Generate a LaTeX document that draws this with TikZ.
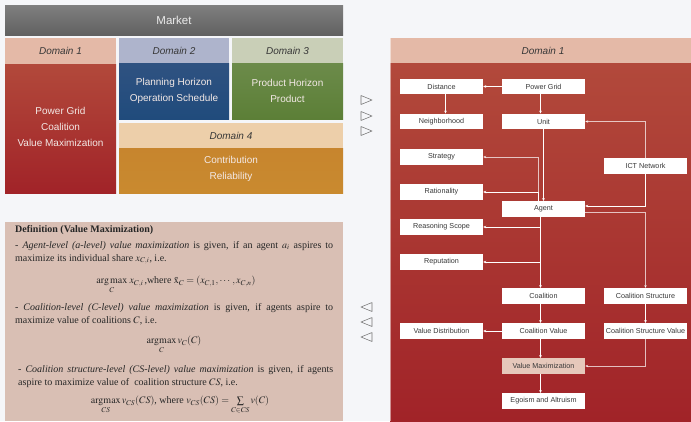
\documentclass[tikz,border=0pt]{standalone}
\usepackage{amsmath}
\usepackage{mathptmx}
\usepackage{fontspec}
\setmainfont{Liberation Serif}
\setsansfont{Liberation Sans}
\usetikzlibrary{arrows.meta}
\definecolor{bgc}{HTML}{F5F6F9}
\definecolor{hdone}{HTML}{E4B9A7}
\definecolor{hdtwo}{HTML}{AEB4CC}
\definecolor{hdthree}{HTML}{C9CFB7}
\definecolor{hdfour}{HTML}{EDCFAA}
\definecolor{redtop}{HTML}{B2493B}
\definecolor{redbot}{HTML}{A12328}
\definecolor{bluetop}{HTML}{2F5281}
\definecolor{bluebot}{HTML}{204B7C}
\definecolor{greentop}{HTML}{6C8B4A}
\definecolor{greenbot}{HTML}{5C7F37}
\definecolor{orangetop}{HTML}{C7852E}
\definecolor{orangebot}{HTML}{C98A2F}
\definecolor{deffill}{HTML}{D9BFB4}
\definecolor{vmfill}{HTML}{E6C8BB}
\definecolor{lighttxt}{HTML}{F3E9E6}
\tikzset{
  hdr/.style={font=\sffamily\itshape\fontsize{10}{12}\selectfont, text=black!78},
  bodytxt/.style={font=\sffamily\fontsize{10}{16}\selectfont, text=lighttxt, align=center},
  box/.style={fill=white, minimum width=83pt, minimum height=15.5pt, inner sep=0pt,
    font=\sffamily\fontsize{7.2}{8}\selectfont, text=black!78},
  arr/.style={draw=white, line width=0.6pt, -{Stealth[length=3pt,width=2.6pt]}},
  arrp/.style={draw=white, draw opacity=0.7, line width=0.6pt, -{Stealth[length=3pt,width=2.6pt]}},
  tri/.style={draw=black!55, line width=0.55pt, line join=round},
  deftxt/.style={font=\fontsize{10}{13}\selectfont, text=black!85, inner sep=0pt},
  para/.style={deftxt, anchor=north west, text width=318pt, align=justify}
}
\begin{document}
\begin{tikzpicture}[x=1pt,y=-1pt]
\useasboundingbox (0,0) rectangle (691,421);
\fill[bgc] (0,0) rectangle (691,421);

% Market
\shade[top color=black!50, bottom color=black!62] (5,5) rectangle (343,35);
\node[font=\sffamily\fontsize{11.5}{13}\selectfont, text=white!92!black] (market) at (174,20) {Market};

% Domain 1
\fill[hdone] (5,38) rectangle (116,64);
\shade[top color=redtop, bottom color=redbot] (5,64) rectangle (116,193);
\node[hdr] (d1h) at (60.5,51) {Domain 1};
\node[bodytxt] (d1b) at (60.5,127) {Power Grid\\Coalition\\Value Maximization};

% Domain 2
\fill[hdtwo] (119,38) rectangle (229,63);
\shade[top color=bluetop, bottom color=bluebot] (119,63) rectangle (229,119);
\node[hdr] (d2h) at (174,51) {Domain 2};
\node[bodytxt] (d2b) at (174,90.5) {Planning Horizon\\Operation Schedule};

% Domain 3
\fill[hdthree] (232,38) rectangle (343,63);
\shade[top color=greentop, bottom color=greenbot] (232,63) rectangle (343,119);
\node[hdr] (d3h) at (287.5,51) {Domain 3};
\node[bodytxt] (d3b) at (287.5,90.5) {Product Horizon\\Product};

% Domain 4
\fill[hdfour] (119,123) rectangle (343,148);
\shade[top color=orangetop, bottom color=orangebot] (119,148) rectangle (343,193);
\node[hdr] (d4h) at (231,135.5) {Domain 4};
\node[bodytxt] (d4b) at (231,169) {Contribution\\Reliability};

% Definition box
\fill[deffill] (5,222) rectangle (343,421);
\node[deftxt, anchor=north west] (dtitle) at (15,225.5) {\textbf{Definition (Value Maximization)}};
\node[para] (p1) at (15,241) {- \textit{Agent-level (a-level) value maximization} is given, if an agent $a_i$ aspires to\linebreak maximize its individual share $x_{C,i}$, i.e.};
\node[deftxt] (f1) at (176,285) {$\operatorname*{arg\,max}\limits_{C}\, x_{C,i}\,$,where $\bar{\mathrm{x}}_C=(x_{C,1},\cdots,x_{C,n})$};
\node[para] (p2) at (15,303.5) {- \textit{Coalition-level (C-level) value maximization} is given, if agents aspire to\linebreak maximize value of coalitions $C$, i.e.};
\node[deftxt] (f2) at (174,345) {$\operatorname*{argmax}\limits_{C} v_C(C)$};
\node[para, text width=315pt] (p3) at (18,365.5) {- \textit{Coalition structure-level (CS-level) value maximization} is given, if agents\linebreak aspire to maximize value of \ coalition structure $CS$, i.e.};
\node[deftxt] (f3) at (180,405) {$\operatorname*{argmax}\limits_{CS} v_{CS}(CS)$, where $v_{CS}(CS)=\sum\limits_{C\in CS} v(C)$};

% Triangles
\foreach \yy in {100,116,131}{
  \draw[tri] (361,\yy-4.5) -- (372,\yy) -- (361,\yy+4.5) -- cycle;
}
\foreach \yy in {307,322,337}{
  \draw[tri] (372,\yy-4.5) -- (361,\yy) -- (372,\yy+4.5) -- cycle;
}

% Right panel
\fill[hdone] (390,38) rectangle (691,63);
\shade[top color=redtop, bottom color=redbot] (390,63) rectangle (691,421);
\draw[white, opacity=0.5, line width=0.5pt] (390.3,38) -- (390.3,421);
\node[hdr] (rh) at (543,50.5) {Domain 1};

\node[box] (dist) at (441.5,86.5) {Distance};
\node[box] (pg) at (543.5,86.5) {Power Grid};
\node[box] (neigh) at (441.5,121.5) {Neighborhood};
\node[box] (unit) at (543.5,121.5) {Unit};
\node[box] (strat) at (441.5,157) {Strategy};
\node[box] (ict) at (645.5,166) {ICT Network};
\node[box] (rat) at (441.5,192) {Rationality};
\node[box] (agent) at (543.5,209) {Agent};
\node[box] (rs) at (441.5,227) {Reasoning Scope};
\node[box] (rep) at (441.5,262) {Reputation};
\node[box] (coal) at (543.5,296) {Coalition};
\node[box] (cs) at (645.5,296) {Coalition Structure};
\node[box] (vd) at (441.5,331) {Value Distribution};
\node[box] (cv) at (543.5,331) {Coalition Value};
\node[box] (csv) at (645.5,331) {Coalition Structure Value};
\node[box, fill=vmfill] (vm) at (543.5,366) {Value Maximization};
\node[box] (ea) at (543.5,401) {Egoism and Altruism};

% Connectors
\draw[arr] (pg) -- (dist);
\draw[arr] ([xshift=4pt]dist.south) -- ([xshift=4pt]neigh.north);
\draw[arr] ([xshift=-3pt]pg.south) -- ([xshift=-3pt]unit.north);
\draw[arr] (unit) -- (agent);
\draw[arrp] ([xshift=-5.5pt]agent.north) |- (strat);
\draw[arr] ([xshift=-5.5pt]agent.north) |- (rat);
\draw[arrp] (ict.north) |- (unit.east);
\draw[arr] (ict.south) |- ([yshift=3pt]agent.east);
\draw[arrp] ([yshift=-3pt]agent.east) -| (cs.north);
\draw[arr] ([xshift=-3pt]agent.south) -- ([xshift=-3pt]coal.north);
\draw[arr] ([xshift=-3pt]agent.south) |- (rs);
\draw[arr] ([xshift=-3pt]agent.south) |- (rep);
\draw[arr] ([xshift=-3pt]coal.south) -- ([xshift=-3pt]cv.north);
\draw[arr] (cv) -- (vd);
\draw[arr] ([xshift=-3pt]cv.south) -- ([xshift=-3pt]vm.north);
\draw[arr] (cs) -- (csv);
\draw[arrp] (csv.south) |- (vm.east);
\draw[arr] ([xshift=-3pt]vm.south) -- ([xshift=-3pt]ea.north);
\end{tikzpicture}
\end{document}
